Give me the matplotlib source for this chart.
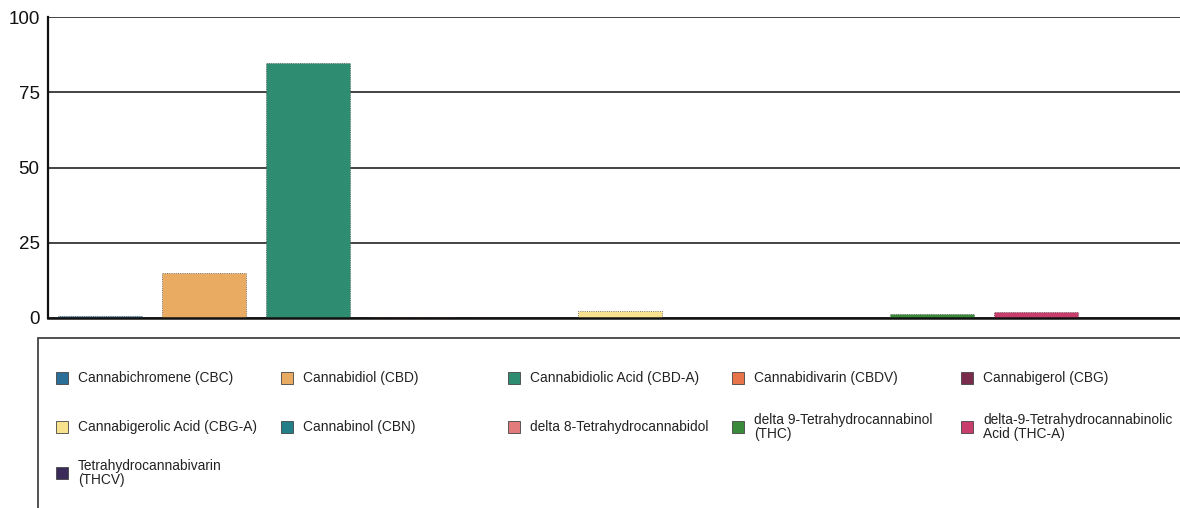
import matplotlib.pyplot as plt
from matplotlib.patches import Rectangle

plt.rcParams['font.family'] = ['Liberation Sans', 'DejaVu Sans']

names = ['Cannabichromene (CBC)', 'Cannabidiol (CBD)', 'Cannabidiolic Acid (CBD-A)',
         'Cannabidivarin (CBDV)', 'Cannabigerol (CBG)', 'Cannabigerolic Acid (CBG-A)',
         'Cannabinol (CBN)', 'delta 8-Tetrahydrocannabidol',
         'delta 9-Tetrahydrocannabinol\n(THC)', 'delta-9-Tetrahydrocannabinolic\nAcid (THC-A)',
         'Tetrahydrocannabivarin\n(THCV)']
values = [0.5, 14.8, 84.6, 0.2, 0.3, 2.3, 0.0, 0.0, 1.2, 2.0, 0.0]
colors = ['#2b6e98', '#e9aa62', '#2e8c70', '#e8744c', '#7a2c4c', '#f9e28e',
          '#227f88', '#e27c7c', '#3a8a3c', '#c93d6c', '#3b2b5b']
yticks = [0, 25, 50, 75, 100]

W, H = 1180, 508
fig = plt.figure(figsize=(W/100, H/100), dpi=100)
ax = fig.add_axes([48/W, 1-318/H, 1144/W, 301/H])

x = range(len(values))
ax.bar(x, values, width=0.8, color=colors, edgecolor='#555555', linewidth=0.6, linestyle=':')
ax.set_xlim(-0.5, len(values) - 0.5)
ax.set_ylim(0, 100)
ax.set_yticks(yticks)
ax.tick_params(axis='y', length=0, pad=6, labelsize=13.5, colors='#111111')
ax.set_xticks([])
ax.grid(axis='y', color='#111111', linewidth=1.1)
ax.set_axisbelow(True)
for s in ['top', 'right']:
    ax.spines[s].set_visible(False)
ax.spines['left'].set_linewidth(1.6)
ax.spines['bottom'].set_linewidth(1.8)
ax.spines['left'].set_color('#111111')
ax.spines['bottom'].set_color('#111111')

# legend box
fig.add_artist(Rectangle((38/W, -0.1), 1.2, (H - 338)/H + 0.1, transform=fig.transFigure,
                         facecolor='none', edgecolor='#333333', linewidth=1.2))

col_x = [56, 281, 508, 732, 961]
row_y = [378, 427, 473]
sq = 12
for i, name in enumerate(names):
    r, c = divmod(i, 5)
    px, py = col_x[c], row_y[r]
    fig.add_artist(Rectangle((px/W, 1-(py+sq/2)/H), sq/W, sq/H, transform=fig.transFigure,
                             facecolor=colors[i], edgecolor='#444444', linewidth=0.6))
    fig.text((px+22)/W, 1-py/H, name, fontsize=9.9, va='center', ha='left',
             color='#222222', linespacing=0.95)

fig.savefig('out.png', dpi=100)
